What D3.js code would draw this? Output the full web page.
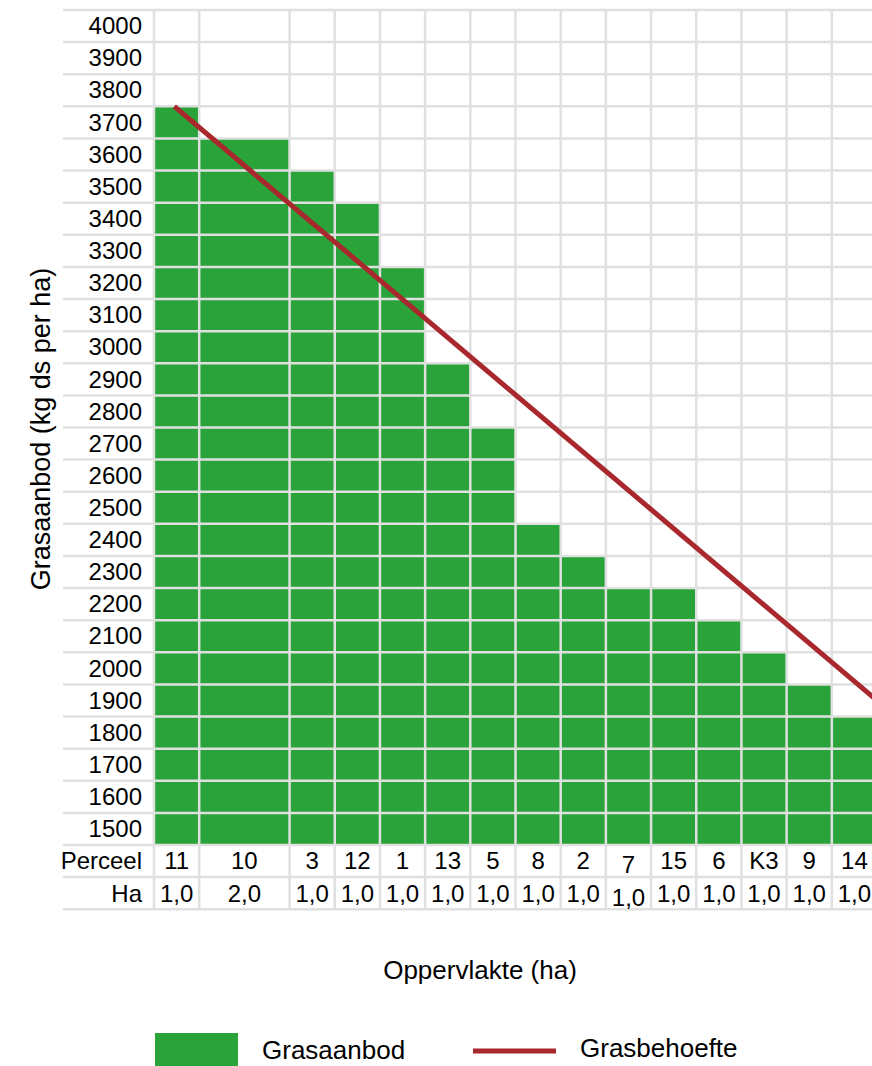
<!DOCTYPE html>
<html>
<head>
<meta charset="utf-8">
<script src="https://cdn.jsdelivr.net/npm/d3@7"></script>
<style>
  body { margin: 0; background: #fff; }
  svg { display: block; font-family: "Liberation Sans", Arial, sans-serif; }
  .grid line { stroke: #e0e0e0; stroke-width: 2.5; }
</style>
</head>
<body>
<div id="chart"></div>
<script>
// perceel order, area (ha) and grass supply (kg ds per ha, top of bar)
const percelen = ["11", "10", "3", "12", "1", "13", "5", "8", "2", "7", "15", "6", "K3", "9", "14"];
const hectares = [1.0, 2.0, 1.0, 1.0, 1.0, 1.0, 1.0, 1.0, 1.0, 1.0, 1.0, 1.0, 1.0, 1.0, 1.0];
const grasaanbod = [3800, 3700, 3600, 3500, 3300, 3000, 2800, 2500, 2400, 2300, 2300, 2200, 2100, 2000, 1900];

// grass demand line (cumulative ha, kg ds per ha)
const behoefteHa = [0.45, 16];
const behoefteKg = [3800, 1950];

// row labels of the table
const rowLabels = d3.range(1500, 4001, 100);

const width = 872, height = 1066;
const green = "#29a33a", red = "#a8282e";

const svg = d3.select("#chart").append("svg")
    .attr("width", width)
    .attr("height", height);

// cumulative start of every perceel
let cum = [0];
hectares.forEach((h, i) => cum.push(cum[i] + h));
const totalHa = cum[cum.length - 1];

const x = d3.scaleLinear().domain([0, totalHa]).range([154, 877]);
const y = d3.scaleLinear().domain([1500, 4100]).range([845, 10]);
const rowH = y(1500) - y(1600);
const tableBottom = y(1500) + 2 * rowH;

// bars
svg.append("g").selectAll("rect")
    .data(percelen)
    .join("rect")
    .attr("x", (d, i) => x(cum[i]))
    .attr("width", (d, i) => x(cum[i + 1]) - x(cum[i]))
    .attr("y", (d, i) => y(grasaanbod[i]))
    .attr("height", (d, i) => y(1500) - y(grasaanbod[i]))
    .attr("fill", green);

// grid on top of bars
const grid = svg.append("g").attr("class", "grid");
const hLines = d3.range(1500, 4101, 100).map(v => y(v)).concat([y(1500) + rowH, tableBottom]);
grid.selectAll(".h")
    .data(hLines)
    .join("line")
    .attr("class", "h")
    .attr("x1", 63).attr("x2", width)
    .attr("y1", d => d).attr("y2", d => d);
grid.selectAll(".v")
    .data(cum)
    .join("line")
    .attr("class", "v")
    .attr("x1", d => x(d)).attr("x2", d => x(d))
    .attr("y1", y(4100)).attr("y2", tableBottom);

// demand line
const lineGen = d3.line()
    .x(d => x(d[0]))
    .y(d => y(d[1]));
svg.append("path")
    .attr("d", lineGen(d3.zip(behoefteHa, behoefteKg)))
    .attr("fill", "none")
    .attr("stroke", red)
    .attr("stroke-width", 5);

// row labels (centered in their rows)
const yAxis = svg.append("g")
    .attr("transform", `translate(${x(0)},0)`)
    .call(d3.axisLeft(y).tickValues(rowLabels).tickSize(0).tickPadding(12).tickFormat(d3.format("d")));
yAxis.select(".domain").remove();
yAxis.selectAll("text")
    .attr("y", -rowH / 2)
    .attr("font-size", 24)
    .attr("font-family", "Liberation Sans, Arial, sans-serif")
    .attr("fill", "#000");

// perceel and ha rows
const perceelY = y(1500) + rowH / 2;
const haY = y(1500) + rowH * 1.5;
const lowered = { "7": 4 }; // label sits a bit lower in the original

svg.append("text").text("Perceel")
    .attr("x", 142).attr("y", perceelY).attr("dy", "0.35em")
    .attr("text-anchor", "end").attr("font-size", 24);
svg.append("text").text("Ha")
    .attr("x", 142).attr("y", haY).attr("dy", "0.35em")
    .attr("text-anchor", "end").attr("font-size", 24);

svg.append("g").selectAll("text")
    .data(percelen)
    .join("text")
    .text(d => d)
    .attr("x", (d, i) => x((cum[i] + cum[i + 1]) / 2))
    .attr("y", d => perceelY + (lowered[d] || 0))
    .attr("dy", "0.35em")
    .attr("text-anchor", "middle")
    .attr("font-size", 24);

svg.append("g").selectAll("text")
    .data(hectares)
    .join("text")
    .text(d => d3.format(".1f")(d).replace(".", ","))
    .attr("x", (d, i) => x((cum[i] + cum[i + 1]) / 2))
    .attr("y", (d, i) => haY + (lowered[percelen[i]] || 0))
    .attr("dy", "0.35em")
    .attr("text-anchor", "middle")
    .attr("font-size", 24);

// axis titles
svg.append("text").text("Oppervlakte (ha)")
    .attr("x", 480).attr("y", 970).attr("dy", "0.35em")
    .attr("text-anchor", "middle").attr("font-size", 26);

svg.append("text").text("Grasaanbod (kg ds per ha)")
    .attr("transform", "translate(41,429) rotate(-90)")
    .attr("dy", "0.35em")
    .attr("text-anchor", "middle").attr("font-size", 27);

// legend
const legend = svg.append("g");
legend.append("rect")
    .attr("x", 155).attr("y", 1033).attr("width", 83).attr("height", 33)
    .attr("fill", green);
legend.append("text").text("Grasaanbod")
    .attr("x", 262).attr("y", 1050).attr("dy", "0.35em").attr("font-size", 26);
legend.append("line")
    .attr("x1", 473).attr("x2", 556).attr("y1", 1051).attr("y2", 1051)
    .attr("stroke", red).attr("stroke-width", 5);
legend.append("text").text("Grasbehoefte")
    .attr("x", 580).attr("y", 1048).attr("dy", "0.35em").attr("font-size", 26);
</script>
</body>
</html>
